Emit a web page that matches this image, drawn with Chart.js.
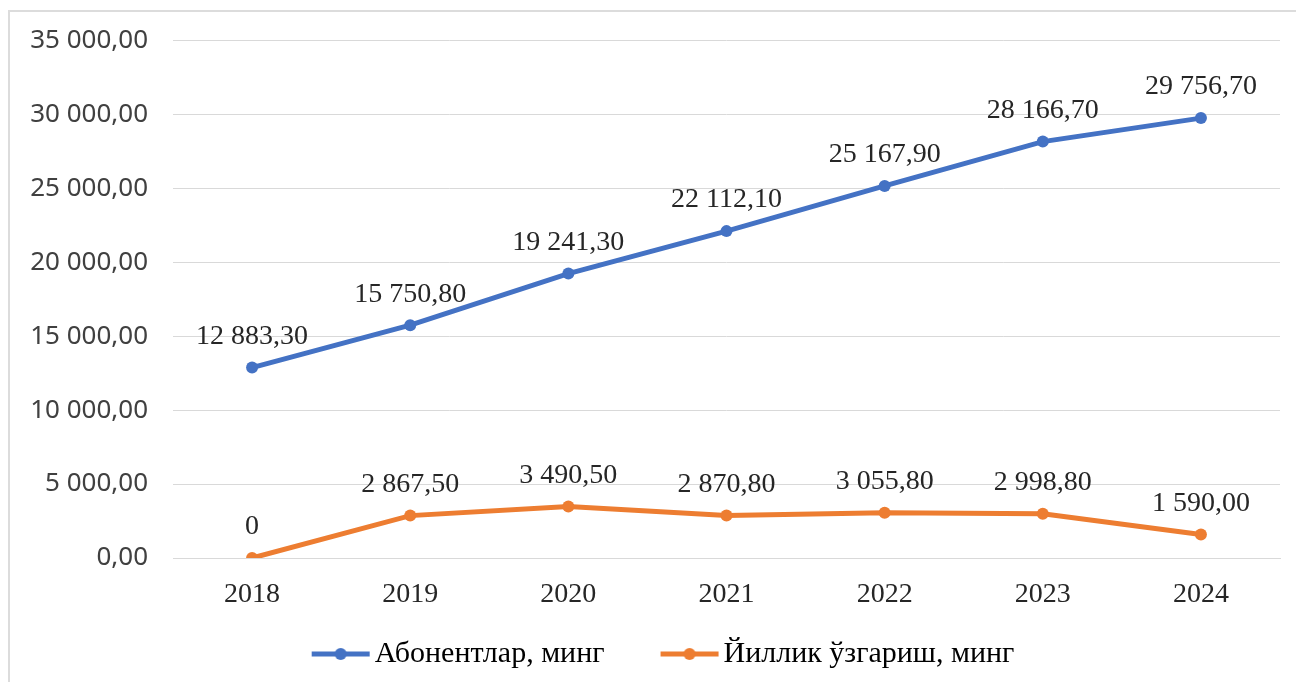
<!DOCTYPE html>
<html>
<head>
<meta charset="utf-8">
<script src="https://cdn.jsdelivr.net/npm/chart.js@4/dist/chart.umd.min.js"></script>
<style>
  html, body { margin: 0; padding: 0; background: #fff; }
  #wrap { position: relative; width: 1296px; height: 682px; }
</style>
</head>
<body>
<div id="wrap"><canvas id="chart"></canvas></div>
<script>
// chart data
const years = ['2018', '2019', '2020', '2021', '2022', '2023', '2024'];
const subscribers = [12883.3, 15750.8, 19241.3, 22112.1, 25167.9, 28166.7, 29756.7];
const yearlyChange = [0, 2867.5, 3490.5, 2870.8, 3055.8, 2998.8, 1590];
const seriesNames = ['Абонентлар, минг', 'Йиллик ўзгариш, минг'];

const blue = '#4472C4';
const orange = '#ED7D31';
const serif = '"Liberation Serif", "Times New Roman", serif';

// "12 883,30" style
function fmt(v) {
    const parts = v.toFixed(2).split('.');
    const int = parts[0].replace(/\B(?=(\d{3})+(?!\d))/g, ' ');
    return int + ',' + parts[1];
}

// line-with-dot marker for the legend; drawn on the right part of the image
// so that it sits close to the text
function marker(color) {
    const c = document.createElement('canvas');
    c.width = 116; c.height = 14;
    const g = c.getContext('2d');
    g.strokeStyle = color;
    g.lineWidth = 5;
    g.beginPath(); g.moveTo(57, 7); g.lineTo(115, 7); g.stroke();
    g.fillStyle = color;
    g.beginPath(); g.arc(86, 7, 6, 0, Math.PI * 2); g.fill();
    return c;
}

const valueLabels = {
    id: 'valueLabels',
    afterDatasetsDraw(chart) {
        const ctx = chart.ctx;
        ctx.save();
        ctx.font = '28px ' + serif;
        ctx.fillStyle = '#262626';
        ctx.textAlign = 'center';
        ctx.textBaseline = 'middle';
        chart.data.datasets.forEach((ds, i) => {
            chart.getDatasetMeta(i).data.forEach((pt, j) => {
                const v = ds.data[j];
                const txt = v === 0 ? '0' : fmt(v);
                ctx.fillText(txt, pt.x, pt.y - 31);
            });
        });
        ctx.restore();
    }
};

const frame = {
    id: 'frame',
    beforeDraw(chart) {
        const ctx = chart.ctx;
        ctx.save();
        ctx.strokeStyle = '#dcdcdc';
        ctx.lineWidth = 2;
        ctx.beginPath();
        ctx.moveTo(9, chart.height);
        ctx.lineTo(9, 11);
        ctx.lineTo(chart.width, 11);
        ctx.stroke();
        ctx.restore();
    }
};

new Chart(document.getElementById('chart'), {
    type: 'line',
    data: {
        labels: years,
        datasets: [{
            label: seriesNames[0],
            data: subscribers,
            borderColor: blue,
            backgroundColor: blue,
            borderWidth: 5,
            pointRadius: 6,
            pointBackgroundColor: blue,
            pointBorderWidth: 0,
            tension: 0
        }, {
            label: seriesNames[1],
            data: yearlyChange,
            borderColor: orange,
            backgroundColor: orange,
            borderWidth: 5,
            pointRadius: 6,
            pointBackgroundColor: orange,
            pointBorderWidth: 0,
            tension: 0
        }]
    },
    options: {
        responsive: true,
        maintainAspectRatio: false,
        animation: false,
        layout: { padding: { top: 40, right: 16, bottom: 3, left: 0 } },
        plugins: {
            tooltip: { enabled: false },
            legend: {
                position: 'bottom',
                labels: {
                    usePointStyle: true,
                    pointStyleWidth: 94,
                    color: '#111',
                    font: { family: serif, size: 30 },
                    padding: 10,
                    generateLabels(chart) {
                        return chart.data.datasets.map((ds, i) => ({
                            text: ds.label,
                            pointStyle: marker(ds.borderColor),
                            fillStyle: ds.borderColor,
                            strokeStyle: ds.borderColor,
                            lineWidth: 0,
                            datasetIndex: i,
                            hidden: false
                        }));
                    }
                }
            }
        },
        scales: {
            x: {
                offset: true,
                grid: { display: false, drawTicks: false },
                border: { display: true, color: '#d9d9d9' },
                ticks: {
                    color: '#262626',
                    padding: 20,
                    font: { family: serif, size: 28 }
                },
                afterFit(scale) { scale.height = 71; }
            },
            y: {
                min: 0,
                max: 35000,
                ticks: {
                    stepSize: 5000,
                    color: '#404040',
                    padding: 25,
                    font: { family: '"Noto Sans", "Open Sans", sans-serif', size: 26 },
                    callback: v => fmt(v)
                },
                grid: { color: '#d9d9d9', drawTicks: false },
                border: { display: false },
                afterFit(scale) { scale.width = 173; }
            }
        }
    },
    plugins: [frame, valueLabels]
});
</script>
</body>
</html>
